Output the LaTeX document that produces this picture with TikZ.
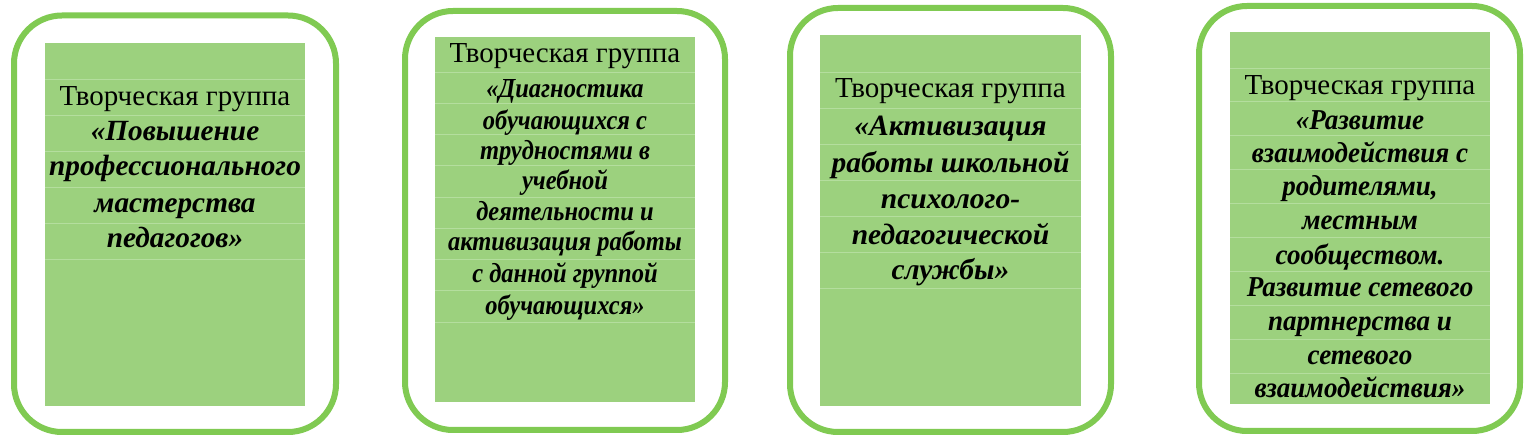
\documentclass[tikz,border=0pt]{standalone}
\usepackage{fontspec}
\setmainfont{Liberation Serif}
\definecolor{framegreen}{RGB}{128,202,82}
\definecolor{cellgreen}{RGB}{156,209,126}
\definecolor{rulegreen}{RGB}{180,222,158}
\tikzset{
  frame/.style={draw=framegreen, line width=6pt, rounded corners=48pt, fill=white},
  cell/.style={fill=cellgreen, draw=none},
  rowrule/.style={draw=rulegreen, line width=0.8pt},
  plainline/.style={font=\fontsize{29}{34}\selectfont, anchor=base, inner sep=0pt},
  titleline/.style={font=\fontsize{#1}{34}\selectfont\bfseries\itshape, anchor=base, inner sep=0pt},
  titleline/.default=29,
}
\begin{document}
\begin{tikzpicture}[x=1pt,y=-1pt]
\useasboundingbox (0,0) rectangle (1529,443);
% ---------- box 1 ----------
\draw[frame] (14,15.5) rectangle (336,432);
\fill[cell] (45,43) rectangle (305,406);
\foreach \k in {1,...,6} \draw[rowrule] (45,{43+36*\k}) -- (305,{43+36*\k});
\node[plainline] (b1t) at (175,{98+8}) {Творческая группа};
\foreach \s/\y [count=\i] in {«Повышение/133, профессионального/168, мастерства/205, педагогов»/240}
  \node[titleline=29.3] (b1l\i) at (175,{\y+8}) {\s};
% ---------- box 2 ----------
\draw[frame] (405,11) rectangle (725,430);
\fill[cell] (435,37) rectangle (695,402);
\foreach \k in {0,...,8} \draw[rowrule] (435,{72+31.25*\k}) -- (695,{72+31.25*\k});
\node[plainline] (b2t) at (565,{55+8}) {Творческая группа};
\foreach \s/\y [count=\i] in {«Диагностика/90, обучающихся с/122, трудностями в/152, учебной/182, деятельности и/213, активизация работы/243, с данной группой/275, обучающихся»/307}
  \node[titleline=27.5, xscale=0.89] (b2l\i) at (565,{\y+7.5}) {\s};
% ---------- box 3 ----------
\draw[frame] (790,8) rectangle (1111,432);
\fill[cell] (820,35) rectangle (1081,406);
\foreach \k in {0,...,6} \draw[rowrule] (820,{72+36*\k}) -- (1081,{72+36*\k});
\node[plainline] (b3t) at (950.5,{90+8}) {Творческая группа};
\foreach \s/\y [count=\i] in {«Активизация/128, работы школьной/165, психолого-/201, педагогической/237, службы»/272}
  \node[titleline=29.5] (b3l\i) at (950.5,{\y+8}) {\s};
% ---------- box 4 ----------
\draw[frame] (1199,6) rectangle (1520,431);
\fill[cell] (1230,32) rectangle (1490,404);
\foreach \k in {0,...,9} \draw[rowrule] (1230,{68+33.9*\k}) -- (1490,{68+33.9*\k});
\node[plainline] (b4t) at (1360,{87+8}) {Творческая группа};
\foreach \s/\y [count=\i] in {«Развитие/122, взаимодействия с/155, {родителями,}/188, местным/222, сообществом./257, Развитие сетевого/289, партнерства и/323, сетевого/357, взаимодействия»/390}
  \node[titleline=28.8, xscale=0.94] (b4l\i) at (1360,{\y+8}) {\s};
\end{tikzpicture}
\end{document}
